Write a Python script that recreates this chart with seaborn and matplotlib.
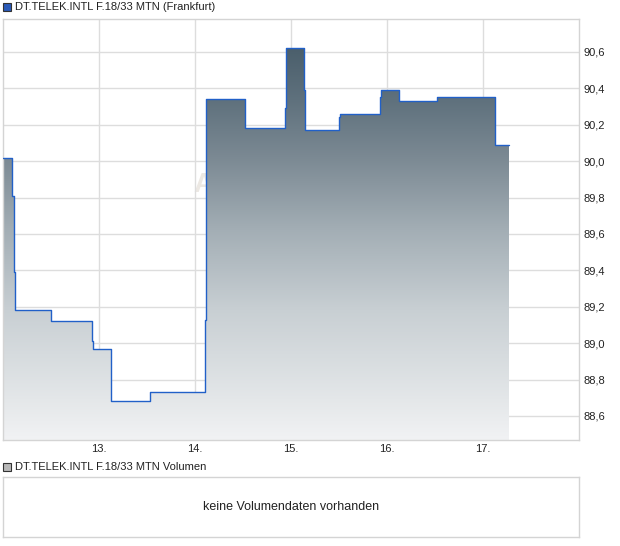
import numpy as np
import pandas as pd
import seaborn as sns
import matplotlib.pyplot as plt
from matplotlib.colors import LinearSegmentedColormap
from matplotlib.patches import Rectangle
from matplotlib.ticker import FuncFormatter

# price history (day of month, fractional) and prices
days = [12.00, 12.09, 12.11, 12.12, 12.50, 12.93, 12.94, 13.12, 13.13, 13.53,
        14.10, 14.11, 14.52, 14.94, 14.945, 14.95, 15.14, 15.15, 15.50, 15.51,
        15.93, 15.94, 16.12, 16.52, 17.12, 17.13, 17.27]
prices = [90.02, 89.81, 89.39, 89.18, 89.12, 89.01, 88.97, 88.83, 88.68, 88.73,
          89.13, 90.34, 90.18, 90.29, 90.51, 90.62, 90.39, 90.17, 90.24, 90.26,
          90.35, 90.39, 90.33, 90.35, 90.29, 90.09, 90.09]
day_ticks = [13, 14, 15, 16, 17]
day_labels = ['13.', '14.', '15.', '16.', '17.']
price_ticks = [88.6, 88.8, 89.0, 89.2, 89.4, 89.6, 89.8, 90.0, 90.2, 90.4, 90.6]
title = 'DT.TELEK.INTL F.18/33 MTN (Frankfurt)'
vol_title = 'DT.TELEK.INTL F.18/33 MTN Volumen'
vol_note = 'keine Volumendaten vorhanden'

df = pd.DataFrame({'day': days, 'price': prices})

sns.set_style('white')
plt.rcParams['font.family'] = ['Liberation Sans', 'DejaVu Sans']
plt.rcParams['font.size'] = 8

fig = plt.figure(figsize=(6.2, 5.46), dpi=100)
ax = fig.add_axes([3/620, 1-440/546, 576/620, 421/546])
ax2 = fig.add_axes([3/620, 1-537/546, 576/620, 60/546])

xlo, xhi = 12.0, 18.0
ylo, yhi = 88.468, 90.781

# faint watermark behind the fill
ax.text(12 + (193-3)/96, 89.87, 'ARIVA.DE', fontsize=20, color='#ece8e3',
        fontweight='bold', va='center', ha='left', zorder=0.5)

# gradient fill under the step line
poly = ax.fill_between(df['day'], df['price'], ylo, step='post', color='none', lw=0)
cmap = LinearSegmentedColormap.from_list('fill', [
    (0.0, '#f1f2f4'), (0.095, '#e4e7e9'), (0.309, '#c8cfd3'), (0.499, '#a3aeb5'),
    (0.672, '#7b8993'), (0.808, '#5f717d'), (0.931, '#4b5f6c'), (1.0, '#46596a')])
grad = np.linspace(0, 1, 256).reshape(-1, 1)
im = ax.imshow(grad, extent=[xlo, xhi, ylo, yhi], aspect='auto', origin='lower',
               cmap=cmap, zorder=1, interpolation='bilinear')
im.set_clip_path(poly.get_paths()[0], transform=ax.transData)

sns.lineplot(data=df, x='day', y='price', ax=ax, drawstyle='steps-post',
             estimator=None, color='#2160c8', lw=1.0, zorder=3)

ax.set_xlim(xlo, xhi)
ax.set_ylim(ylo, yhi)
ax.set_xticks(day_ticks)
ax.set_xticklabels(day_labels)
ax.set_yticks(price_ticks)
ax.yaxis.set_major_formatter(FuncFormatter(lambda v, p: f'{v:.1f}'.replace('.', ',')))
ax.yaxis.tick_right()
ax.grid(True, color='#dddddd', lw=1)
ax.set_axisbelow(True)
ax.tick_params(length=0, pad=3, labelsize=8, colors='#222222')
ax.set_xlabel('')
ax.set_ylabel('')
for s in ax.spines.values():
    s.set_color('#d4d4d4')
    s.set_linewidth(1)

ax2.set_xticks([])
ax2.set_yticks([])
for s in ax2.spines.values():
    s.set_color('#d4d4d4')
    s.set_linewidth(1)
ax2.text(0.5, 0.5, vol_note, transform=ax2.transAxes, ha='center', va='center',
         fontsize=9, color='#222222')

# legend-like headers
fig.patches.append(Rectangle((3/620, 1-11/546), 8/620, 8/546, transform=fig.transFigure,
                             facecolor='#2a5ab8', edgecolor='#333333', lw=0.8))
fig.text(15/620, 1-7/546, title, fontsize=8, va='center', ha='left', color='#222222')
fig.patches.append(Rectangle((3/620, 1-471/546), 8/620, 8/546, transform=fig.transFigure,
                             facecolor='#b8b8b8', edgecolor='#333333', lw=0.8))
fig.text(15/620, 1-467/546, vol_title, fontsize=8, va='center', ha='left', color='#222222')

fig.savefig('out.png', dpi=100)
